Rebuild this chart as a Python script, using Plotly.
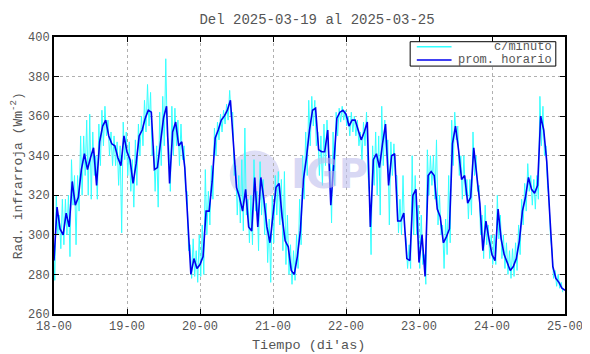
import datetime as dt
import plotly.graph_objects as go

title_text = "Del 2025-03-19 al 2025-03-25"
start_day = "2025-03-18"
n_days = 7

# hourly mean (prom. horario), hours 0..168 from 18-00
hourly = [
    287, 314, 303, 300, 311, 304, 327, 315, 319, 333, 341, 333, 339, 344, 325, 347, 355, 358, 350, 346, 345, 339, 335, 350,
    342, 338, 326, 336, 350, 353, 359, 363, 362, 333, 334, 347, 359, 365, 326, 352, 357, 345, 347, 334, 309, 280, 288, 283,
    285, 289, 312, 312, 327, 349, 353, 358, 360, 363, 368, 348, 324, 319, 312, 323, 304, 302, 329, 304, 329, 318, 304, 296,
    311, 324, 326, 309, 297, 294, 282, 280, 289, 302, 328, 339, 353, 363, 364, 343, 342, 342, 353, 315, 336, 359, 362, 363,
    361, 355, 358, 358, 353, 348, 352, 357, 304, 338, 341, 334, 346, 356, 325, 340, 341, 307, 307, 311, 288, 287, 320, 323,
    286, 300, 279, 330, 332, 330, 313, 309, 296, 299, 303, 346, 355, 343, 328, 330, 316, 319, 344, 331, 316, 292, 307, 298,
    290, 287, 313, 298, 290, 286, 282, 284, 288, 297, 312, 319, 329, 323, 321, 325, 360, 353, 337, 310, 284, 278, 276, 273,
    272,
]

# per-minute series (c/minuto), summarised as the high / low reached in each hour
minute_hi = [
    300, 320, 310, 318, 318, 320, 338, 330, 330, 350, 350, 358, 361, 352, 340, 356, 363, 365, 358, 352, 350, 347, 345, 357,
    352, 347, 338, 348, 356, 360, 368, 376, 372, 345, 345, 362, 370, 389, 345, 365, 364, 358, 356, 345, 322, 295, 298, 292,
    300, 305, 333, 322, 335, 354, 357, 361, 363, 366, 373, 362, 335, 330, 338, 354, 318, 320, 338, 322, 337, 328, 316, 308,
    320, 330, 332, 328, 332, 310, 295, 292, 300, 318, 340, 352, 368, 370, 368, 352, 350, 356, 358, 340, 352, 362, 364, 365,
    363, 360, 362, 360, 358, 352, 357, 362, 320, 345, 352, 350, 365, 358, 348, 347, 346, 330, 318, 330, 298, 295, 340, 330,
    315, 310, 290, 343, 340, 340, 348, 320, 305, 308, 330, 358, 362, 355, 340, 340, 328, 328, 352, 340, 325, 310, 315, 305,
    300, 300, 320, 310, 300, 296, 292, 293, 296, 305, 318, 326, 336, 330, 328, 330, 370, 365, 345, 318, 292, 282, 280, 276,
]
minute_lo = [
    277, 300, 293, 295, 300, 289, 315, 295, 312, 320, 330, 320, 318, 330, 318, 335, 345, 350, 340, 335, 335, 325, 301, 338,
    330, 322, 314, 325, 340, 345, 352, 355, 340, 322, 314, 335, 345, 350, 322, 340, 345, 335, 338, 322, 292, 278, 279, 276,
    279, 280, 300, 305, 318, 340, 348, 352, 356, 358, 360, 330, 310, 306, 302, 310, 296, 295, 312, 292, 310, 300, 286, 276,
    296, 310, 305, 292, 285, 280, 275, 277, 283, 295, 318, 330, 345, 355, 345, 330, 325, 335, 340, 306, 325, 350, 357, 358,
    355, 350, 352, 350, 345, 338, 345, 330, 290, 325, 320, 310, 335, 340, 305, 330, 330, 301, 300, 302, 283, 283, 300, 300,
    283, 285, 275, 320, 325, 318, 305, 300, 283, 290, 296, 335, 348, 330, 318, 320, 308, 310, 330, 322, 300, 288, 295, 288,
    285, 285, 298, 288, 283, 280, 278, 279, 282, 290, 305, 312, 322, 315, 313, 318, 345, 340, 325, 298, 278, 274, 273, 271,
]

y_ticks = [260, 280, 300, 320, 340, 360, 380, 400]
legend_names = ["c/minuto", "prom. horario"]
x_title = "Tiempo (di'as)"
y_title = "Rad. infrarroja (Wm<sup>-2</sup>)"

CYAN = "#33ffff"
BLUE = "#0000ee"
TXT = "#555555"
FONT = "Liberation Mono, DejaVu Sans Mono, monospace"

t0 = dt.datetime.fromisoformat(start_day)
x_hourly = [t0 + dt.timedelta(hours=h) for h in range(len(hourly))]
x_min, y_min = [], []
for h, (hi, lo) in enumerate(zip(minute_hi, minute_lo)):
    x_min += [t0 + dt.timedelta(hours=h - 0.25), t0 + dt.timedelta(hours=h + 0.25)]
    y_min += [hi, lo]

fig = go.Figure()
fig.add_trace(go.Scatter(x=x_min, y=y_min, mode="lines", name=legend_names[0],
                         line=dict(color=CYAN, width=1), showlegend=False))
fig.add_trace(go.Scatter(x=x_hourly, y=hourly, mode="lines", name=legend_names[1],
                         line=dict(color=BLUE, width=1.6), showlegend=False))

# faded IGP watermark
fig.add_shape(type="circle", xref="paper", yref="paper", x0=0.344, x1=0.442, y0=0.41, y1=0.59,
              fillcolor="rgba(222,222,246,1)", line=dict(width=0), layer="below")
fig.add_annotation(text="<b>IGP</b>", xref="paper", yref="paper", x=0.54, y=0.505,
                   showarrow=False,
                   font=dict(family="DejaVu Sans", size=40, color="rgba(190,190,238,0.6)"))

# legend box (drawn by hand to match the reference layout)
fig.add_shape(type="rect", xref="paper", yref="paper", x0=0.697, x1=0.982, y0=0.895, y1=0.983,
              fillcolor="white", line=dict(color="black", width=1))
for name, col, yy in [(legend_names[0], CYAN, 0.965), (legend_names[1], BLUE, 0.917)]:
    fig.add_shape(type="line", xref="paper", yref="paper", x0=0.710, x1=0.778, y0=yy, y1=yy,
                  line=dict(color=col, width=1.6))
    fig.add_annotation(text=name, xref="paper", yref="paper", x=0.979, y=yy,
                       xanchor="right", yanchor="middle", showarrow=False,
                       font=dict(family=FONT, size=12, color=TXT))

# axis titles
fig.add_annotation(text=x_title, xref="paper", yref="paper", x=0.499, y=-0.112,
                   xanchor="center", yanchor="middle", showarrow=False,
                   font=dict(family=FONT, size=13.5, color=TXT))
fig.add_annotation(text=y_title, xref="paper", yref="paper", x=-0.073, y=0.50,
                   xanchor="center", yanchor="middle", textangle=-90, showarrow=False,
                   font=dict(family=FONT, size=13, color=TXT))

fig.update_layout(
    width=582, height=346,
    margin=dict(l=46, r=25, t=29, b=40),
    paper_bgcolor="white", plot_bgcolor="white",
    font=dict(family=FONT, size=12, color=TXT),
    title=dict(text=title_text, x=0.531, xanchor="center", xref="container",
               y=0.968, yanchor="middle", yref="container",
               font=dict(family=FONT, size=14, color=TXT)),
    showlegend=False,
)
fig.update_xaxes(
    type="date", range=[t0, t0 + dt.timedelta(days=n_days)],
    tickformat="%d-%H", dtick=86400000, tick0=t0,
    showline=True, linecolor="black", linewidth=2, mirror="ticks",
    ticks="inside", ticklen=5, tickcolor="black",
    showgrid=True, gridcolor="#b0b0b0", griddash="dot", gridwidth=1,
    zeroline=False, automargin=False,
    tickfont=dict(family=FONT, size=12, color=TXT),
)
fig.update_yaxes(
    range=[260, 400], tickvals=y_ticks,
    showline=True, linecolor="black", linewidth=2, mirror="ticks",
    ticks="inside", ticklen=5, tickcolor="black",
    showgrid=True, gridcolor="#b0b0b0", griddash="dot", gridwidth=1,
    zeroline=False, automargin=False,
    tickfont=dict(family=FONT, size=12, color=TXT),
)

fig.write_html("out.html")
